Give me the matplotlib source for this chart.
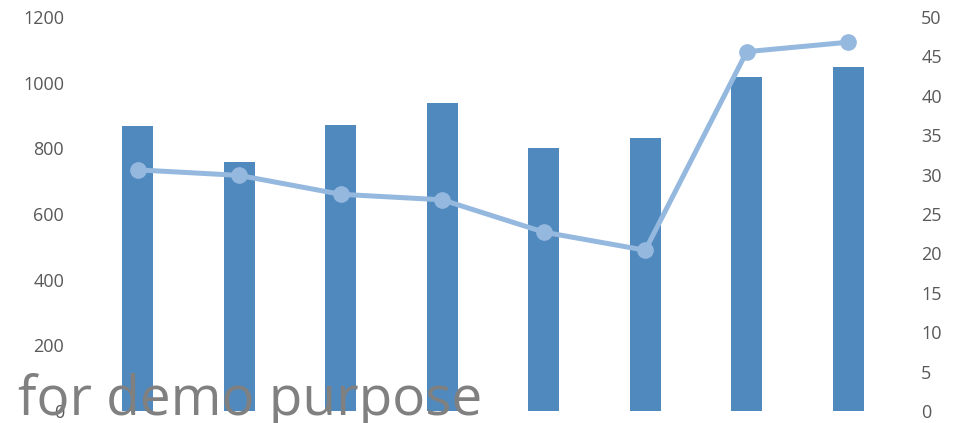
import numpy as np
import matplotlib.pyplot as plt

plt.rcParams['font.family'] = ['Open Sans', 'DejaVu Sans']

categories = ['A', 'B', 'C', 'D', 'E', 'F', 'G', 'H']
bar_values = [868, 758, 871, 938, 801, 832, 1017, 1048]
line_values = [30.6, 29.9, 27.5, 26.8, 22.7, 20.4, 45.6, 46.8]

fig = plt.figure(figsize=(9.57, 4.23), dpi=100)
ax = fig.add_axes([0.0909, 0.0284, 0.8485, 0.9314])
ax2 = ax.twinx()

x = np.arange(len(categories))
ax.bar(x, bar_values, width=0.31, color='#4f89bd', zorder=2)
ax2.plot(x, line_values, color='#95b8df', linewidth=3.6, marker='o',
         markersize=11, zorder=3)

ax.set_xlim(-0.5, len(categories) - 0.5)
ax.set_ylim(0, 1200)
ax.set_yticks(np.arange(0, 1201, 200))
ax2.set_ylim(0, 50)
ax2.set_yticks(np.arange(0, 51, 5))
ax.set_xticks([])

for a in (ax, ax2):
    for s in a.spines.values():
        s.set_visible(False)
    a.tick_params(length=0, labelsize=13, labelcolor='#595959')
ax.tick_params(axis='y', pad=16.5)
ax2.tick_params(axis='y', pad=16)

fig.text(0.019, 0.019, 'for demo purpose', fontsize=39.5, color='#808080',
         ha='left', va='baseline', zorder=10)

fig.savefig('out.png', dpi=100)
